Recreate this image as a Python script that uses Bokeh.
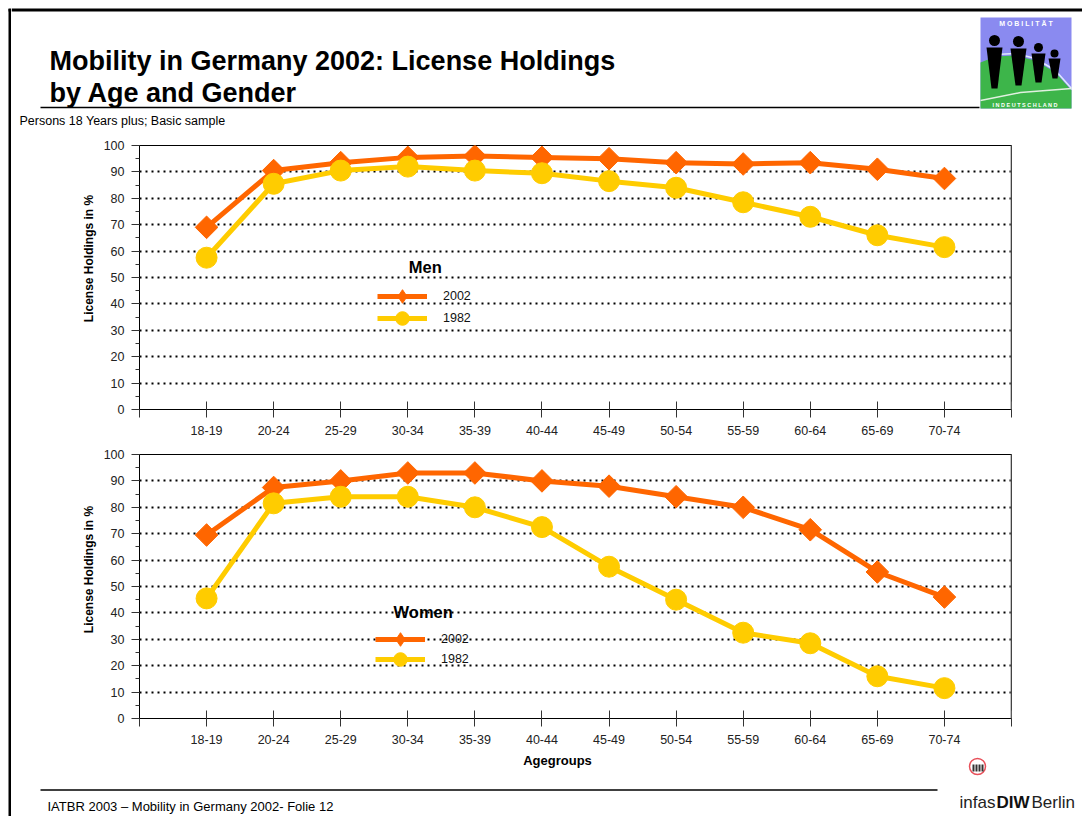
import math
from bokeh.plotting import figure
from bokeh.models import (Range1d, FixedTicker, SingleIntervalTicker, Legend, LegendItem,
                          Label, Span, ColumnDataSource)
from bokeh.layouts import row, column
from bokeh.embed import file_html
from bokeh.resources import INLINE
from bokeh.core.properties import value

# ---------------- data ----------------
ages = ["18-19", "20-24", "25-29", "30-34", "35-39", "40-44",
        "45-49", "50-54", "55-59", "60-64", "65-69", "70-74"]
men_2002 = [69, 90.5, 93.5, 95.5, 96, 95.5, 95, 93.5, 93, 93.5, 91, 87.5]
men_1982 = [57.5, 85.5, 90.5, 92, 90.5, 89.5, 86.5, 84, 78.5, 73, 66, 61.5]
women_2002 = [69.5, 87.5, 90, 93, 93, 90, 88, 84, 80, 71.5, 55.5, 46]
women_1982 = [45.5, 81.5, 84, 84, 80, 72.5, 57.5, 45, 32.5, 28.5, 16, 11.5]
series_labels = ["2002", "1982"]
grid_values = [10, 20, 30, 40, 50, 60, 70, 80, 90]

title_lines = ["Mobility in Germany 2002: License Holdings", "by Age and Gender"]
subtitle = "Persons 18 Years plus;  Basic sample"
footer_text = "IATBR 2003 \u2013 Mobility in Germany 2002- Folie 12"
y_title = "License Holdings in %"
x_title = "Agegroups"

FONT = "Liberation Sans"
C2002 = "#FF6600"
C1982 = "#FFCC00"
PAGE_W = 1082
STRIP_W = 11
LEFT_W = 100
CHART_W = PAGE_W - LEFT_W


def deco_fig(width, height, x0, x1, y_top, y_bottom):
    f = figure(width=width, height=height, x_range=Range1d(x0, x1),
               y_range=Range1d(y_bottom, y_top), output_backend="svg",
               toolbar_location=None, x_axis_type=None, y_axis_type=None,
               min_border=0, outline_line_color=None, frame_align=False)
    f.background_fill_color = "white"
    f.border_fill_color = "white"
    return f


def make_legend(item, xy):
    return Legend(items=[item], location=xy, glyph_width=50, glyph_height=34,
                  label_height=20, label_standoff=16, spacing=0, padding=0, margin=0,
                  background_fill_alpha=0, border_line_color=None,
                  label_text_font=FONT, label_text_font_size="12.5px",
                  label_text_color="#111111")


def make_chart(name, v2002, v1982, height, b_top, b_bottom, leg_x, leg_y2002, leg_y1982,
               name_xy):
    xs = list(range(1, len(ages) + 1))
    src = ColumnDataSource(dict(x=xs, a=v2002, b=v1982))
    p = figure(width=CHART_W, height=height, x_range=Range1d(0, len(ages) + 1),
               y_range=Range1d(0, 100), output_backend="svg", toolbar_location=None,
               min_border_left=39, min_border_right=71,
               min_border_top=b_top, min_border_bottom=b_bottom)
    p.background_fill_color = "white"
    p.border_fill_color = "white"
    p.outline_line_color = "black"
    p.outline_line_width = 1

    # x axis
    p.xaxis.ticker = FixedTicker(ticks=list(range(0, len(ages) + 2)))
    overrides = {i + 1: a for i, a in enumerate(ages)}
    overrides[0] = ""
    overrides[len(ages) + 1] = ""
    p.xaxis.major_label_overrides = overrides
    p.xaxis.major_tick_in = 8
    p.xaxis.major_tick_out = 8
    p.xaxis.minor_tick_line_color = None
    p.xaxis.major_tick_line_color = "#333333"
    p.xaxis.axis_line_color = "black"
    p.xaxis.major_label_standoff = 8
    p.xaxis.major_label_text_font = FONT
    p.xaxis.major_label_text_font_size = "12.5px"
    p.xaxis.major_label_text_color = "#222222"

    # y axis
    p.yaxis.ticker = SingleIntervalTicker(interval=10, num_minor_ticks=2)
    p.yaxis.major_tick_in = 0
    p.yaxis.major_tick_out = 8
    p.yaxis.minor_tick_in = 0
    p.yaxis.minor_tick_out = 4
    p.yaxis.major_tick_line_color = "#333333"
    p.yaxis.minor_tick_line_color = "#333333"
    p.yaxis.axis_line_color = "black"
    p.yaxis.major_label_standoff = 7
    p.yaxis.major_label_text_font = FONT
    p.yaxis.major_label_text_font_size = "12.5px"
    p.yaxis.major_label_text_color = "#222222"

    # grid
    p.xgrid.visible = False
    p.ygrid.ticker = FixedTicker(ticks=grid_values)
    p.ygrid.grid_line_color = "black"
    p.ygrid.grid_line_dash = "2 4"
    p.ygrid.grid_line_width = 2

    p.add_layout(Span(location=len(ages) + 1, dimension="height",
                      line_color="#888888", line_width=2))

    r1 = p.line("x", "a", source=src, line_color=C2002, line_width=5)
    p.scatter("x", "a", source=src, marker="square", size=16, angle=math.pi / 4,
              fill_color=C2002, line_color=C2002)
    r2 = p.line("x", "b", source=src, line_color=C1982, line_width=5)
    s2 = p.scatter("x", "b", source=src, marker="circle", size=21,
                   fill_color=C1982, line_color=C1982)
    # legend-only marker (diamond), not drawn in the plot area
    d1 = p.scatter("x", "a", source=src, marker="diamond", size=21,
                   fill_color=C2002, line_color=C2002, visible=False)

    p.add_layout(make_legend(LegendItem(label=series_labels[0], renderers=[r1, d1]),
                             (leg_x, leg_y2002)))
    p.add_layout(make_legend(LegendItem(label=series_labels[1], renderers=[r2, s2]),
                             (leg_x, leg_y1982)))

    p.add_layout(Label(x=name_xy[0], y=name_xy[1], text=name, text_font=FONT,
                       text_font_style="bold", text_font_size="16.5px",
                       text_align="center", text_baseline="middle", text_color="black"))
    return p


# legend rows: Men centred at page y 296 / 318, Women at 639 / 659 (17 px half-height)
chart_men = make_chart("Men", men_2002, men_1982, 305, 5, 36, 238, 96, 74, (4.26, 53.8))
chart_women = make_chart("Women", women_2002, women_1982, 307, 9, 34, 236, 62, 42,
                         (4.23, 40.5))

# ---------------- left slide border strip (page x 0..11) ----------------
strip = deco_fig(STRIP_W, 816, 0, STRIP_W, 0, 816)
strip.line(x=[9.5, 9.5], y=[8.5, 816], line_width=3, line_color="black")
strip.line(x=[8, 11], y=[9.5, 9.5], line_width=3, line_color="black")

# ---------------- header (page x 11..1082, y 0..140) ----------------
hdr = deco_fig(PAGE_W - STRIP_W, 140, STRIP_W, PAGE_W, 0, 140)
hdr.line(x=[STRIP_W, PAGE_W], y=[9.5, 9.5], line_width=3, line_color="black")
hdr.text(x=[49, 49], y=[60.5, 92], text=title_lines, text_font=value(FONT),
         text_font_style="bold", text_font_size="27px", text_baseline="alphabetic",
         text_color="black")
hdr.text(x=[19], y=[120.5], text=[subtitle], text_font=value(FONT),
         text_font_size="12.5px", text_baseline="middle", text_color="black")
hdr.line(x=[40, 979], y=[107, 107], line_width=1.5, line_color="black")

# logo (decoration)
hdr.quad(left=[980], right=[1071], top=[17], bottom=[108], fill_color="#8A8AF0",
         line_color=None)
hdr.patch(x=[980, 995, 1015, 1035, 1055, 1071, 1071, 980],
          y=[62, 56, 55, 60, 72, 90, 108, 108], fill_color="#3DB54A", line_color=None)
hdr.line(x=[995, 1015, 1035, 1055, 1071], y=[54, 53, 58, 70, 88], line_color="#E0E8FF",
         line_width=1.5)
hdr.line(x=[980, 1020, 1071], y=[100, 92, 88], line_color="#E0F0E0", line_width=1.5)
hdr.patches(xs=[[986, 1002, 997, 991], [1010, 1026, 1021, 1015],
                [1031, 1045, 1041, 1035], [1048, 1060, 1057, 1052]],
            ys=[[47, 47, 88, 88], [48, 48, 85, 85], [53, 53, 82, 82], [58, 58, 78, 78]],
            fill_color="black", line_color=None)
hdr.circle(x=[994, 1018, 1038, 1054], y=[40, 41, 47, 53], radius=[5.5, 5.5, 4.5, 4],
           fill_color="black", line_color=None)
hdr.text(x=[1025.5], y=[23], text=["M O B I L I T \u00c4 T"], text_font=value(FONT),
         text_font_style="bold", text_font_size="7px", text_align="center",
         text_baseline="middle", text_color="white")
hdr.text(x=[1025.5], y=[104], text=["I N  D E U T S C H L A N D"], text_font=value(FONT),
         text_font_style="bold", text_font_size="5.5px", text_align="center",
         text_baseline="middle", text_color="white")

# ---------------- left panel (page x 11..100, y 140..752): axis titles ----------------
left = deco_fig(LEFT_W - STRIP_W, 612, STRIP_W, LEFT_W, 140, 752)
left.text(x=[88, 88], y=[258, 569], text=[y_title, y_title], angle=math.pi / 2,
          text_font=value(FONT), text_font_style="bold", text_font_size="12px",
          text_align="center", text_baseline="middle", text_color="black")

# ---------------- footer (page x 11..1082, y 752..816) ----------------
ftr = deco_fig(PAGE_W - STRIP_W, 64, STRIP_W, PAGE_W, 752, 816)
ftr.text(x=[557], y=[760], text=[x_title], text_font=value(FONT), text_font_style="bold",
         text_font_size="13px", text_align="center", text_baseline="middle",
         text_color="black")
ftr.line(x=[40, 937], y=[789.5, 789.5], line_width=1.5, line_color="black")
ftr.text(x=[47], y=[806], text=[footer_text], text_font=value(FONT),
         text_font_size="13px", text_baseline="middle", text_color="black")
ftr.circle(x=[977], y=[766], radius=8, fill_color=None, line_color="#E8505A",
           line_width=1.5)
ftr.quad(left=[972, 975, 978, 981], right=[974, 977, 980, 983],
         top=[764, 764, 764, 764], bottom=[771, 771, 771, 771],
         fill_color="#333333", line_color=None)
ftr.text(x=[959], y=[802], text=["infas"], text_font=value(FONT),
         text_font_size="17px", text_baseline="alphabetic", text_color="#222222")
ftr.text(x=[996], y=[802], text=["DIW"], text_font=value(FONT), text_font_style="bold",
         text_font_size="17px", text_baseline="alphabetic", text_color="#111111")
ftr.text(x=[1031], y=[802], text=["Berlin"], text_font=value(FONT),
         text_font_size="17px", text_baseline="alphabetic", text_color="#222222")

layout = row(strip, column(hdr, row(left, column(chart_men, chart_women)), ftr))
open("out.html", "w").write(file_html(layout, INLINE))
